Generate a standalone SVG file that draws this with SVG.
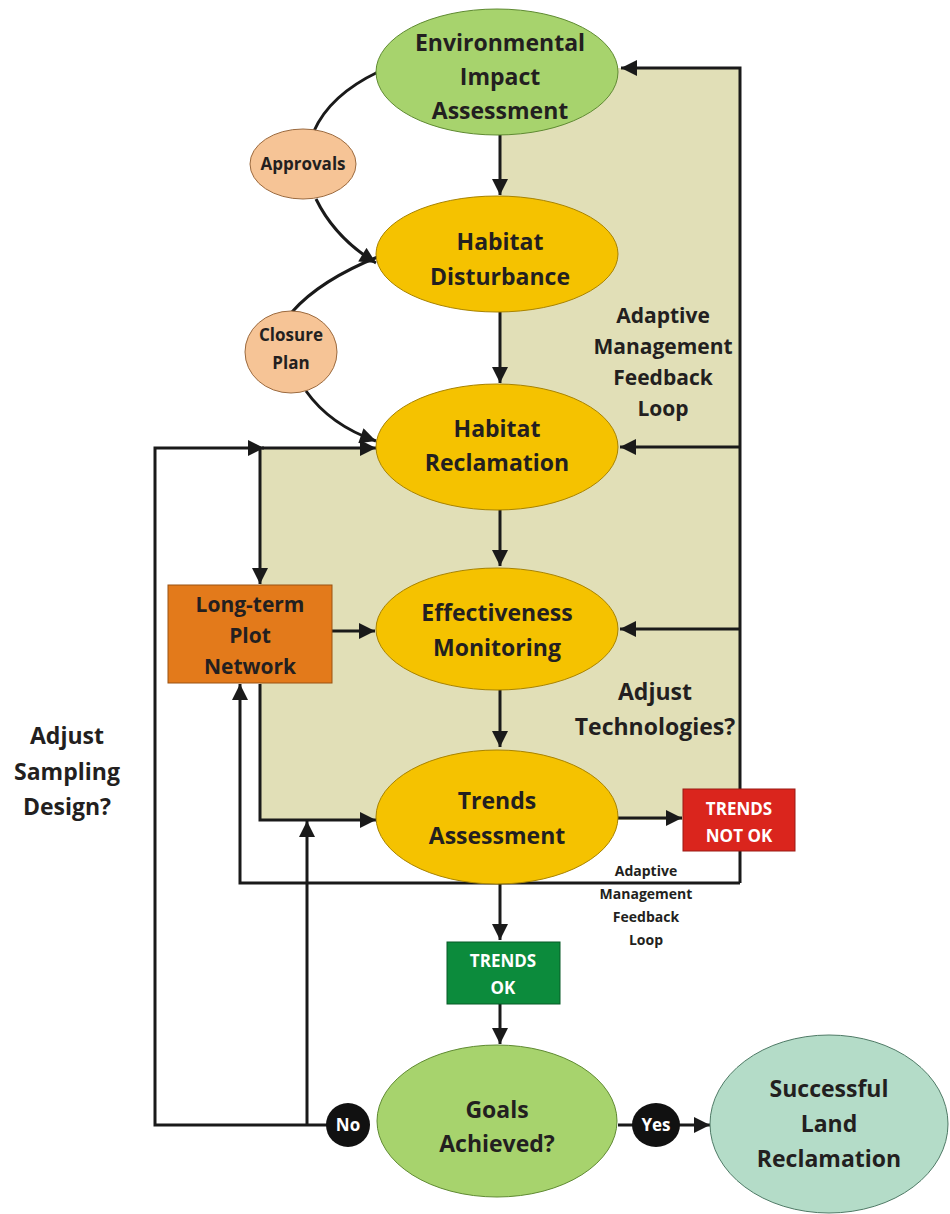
<svg xmlns="http://www.w3.org/2000/svg" width="950" height="1214" viewBox="0 0 950 1214">
<style>
text{font-family:"Open Sans","Liberation Sans",sans-serif;font-weight:700;fill:#231f20;text-anchor:middle}
.big{font-size:23px}
.mid{font-size:21px}
.sm{font-size:17px}
.xs{font-size:14px}
.wh{fill:#ffffff}
.ln{fill:none;stroke:#1a1a1a;stroke-width:3}
.gold{fill:#f5c200;stroke:#a88300;stroke-width:1}
.lg{fill:#a7d36d;stroke:#5f8a32;stroke-width:1}
.peach{fill:#f6c496;stroke:#9b6a3f;stroke-width:1}
</style>
<defs>
<marker id="ah" viewBox="0 0 10 10" refX="10" refY="5" markerWidth="18" markerHeight="16" orient="auto" markerUnits="userSpaceOnUse"><path d="M0,0 L10,5 L0,10 z" fill="#1a1a1a"/></marker>
</defs>
<rect width="950" height="1214" fill="#ffffff"/>
<path d="M500,68 H740 V820 H260 V448 H500 Z" fill="#e1dfb7"/>
<g id="connectors">
<path class="ln" d="M500,135 V195" marker-end="url(#ah)"/>
<path class="ln" d="M500,310 V383" marker-end="url(#ah)"/>
<path class="ln" d="M500,510 V566" marker-end="url(#ah)"/>
<path class="ln" d="M500,690 V747" marker-end="url(#ah)"/>
<path class="ln" d="M500,884 V940" marker-end="url(#ah)"/>
<path class="ln" d="M500,1004 V1044" marker-end="url(#ah)"/>
<path class="ln" d="M740,883 V68 H621" marker-end="url(#ah)"/>
<path class="ln" d="M740,447 H620" marker-end="url(#ah)"/>
<path class="ln" d="M740,629 H620" marker-end="url(#ah)"/>
<path class="ln" d="M740,883 H240 V684" marker-end="url(#ah)"/>
<path class="ln" d="M618,818 H682" marker-end="url(#ah)"/>
<path class="ln" d="M332,631 H375" marker-end="url(#ah)"/>
<path class="ln" d="M330,1125 H155 V448 H264" marker-end="url(#ah)"/>
<path class="ln" d="M262,448 H376" marker-end="url(#ah)"/>
<path class="ln" d="M260,448 V584" marker-end="url(#ah)"/>
<path class="ln" d="M260,684 V820 H376" marker-end="url(#ah)"/>
<path class="ln" d="M307,1125 V821" marker-end="url(#ah)"/>
<path class="ln" d="M618,1125 H710" marker-end="url(#ah)"/>
<path class="ln" d="M378,72 Q330,95 314,131"/>
<path class="ln" d="M316,199 Q335,238 376,263" marker-end="url(#ah)"/>
<path class="ln" d="M380,256 Q320,280 292,312"/>
<path class="ln" d="M306,391 Q330,425 376,441" marker-end="url(#ah)"/>
</g>
<g id="eia"><ellipse class="lg" cx="497" cy="72" rx="121" ry="63"/>
<text class="big" x="500" y="51">Environmental</text><text class="big" x="500" y="85">Impact</text><text class="big" x="500" y="119">Assessment</text></g>
<g id="approvals"><ellipse class="peach" cx="303" cy="164" rx="53" ry="35"/><text class="sm" x="303" y="170">Approvals</text></g>
<g id="disturbance"><ellipse class="gold" cx="497" cy="254" rx="121" ry="58"/>
<text class="big" x="500" y="250">Habitat</text><text class="big" x="500" y="285">Disturbance</text></g>
<g id="closure"><ellipse class="peach" cx="291" cy="352" rx="46" ry="41"/><text class="sm" x="291" y="341">Closure</text><text class="sm" x="291" y="369">Plan</text></g>
<g id="reclamation"><ellipse class="gold" cx="497" cy="447" rx="121" ry="63"/>
<text class="big" x="497" y="437">Habitat</text><text class="big" x="497" y="471">Reclamation</text></g>
<g id="effectiveness"><ellipse class="gold" cx="497" cy="629" rx="121" ry="61"/>
<text class="big" x="497" y="621">Effectiveness</text><text class="big" x="497" y="656">Monitoring</text></g>
<g id="trends"><ellipse class="gold" cx="497" cy="817" rx="121" ry="67"/>
<text class="big" x="497" y="809">Trends</text><text class="big" x="497" y="844">Assessment</text></g>
<g id="longterm"><rect x="168" y="585" width="164" height="98" fill="#e37a1b" stroke="#9a5212" stroke-width="1"/>
<text class="mid" x="250" y="612">Long-term</text><text class="mid" x="250" y="643">Plot</text><text class="mid" x="250" y="674">Network</text></g>
<g id="notok"><rect x="683" y="789" width="112" height="62" fill="#da251d" stroke="#9a1a14" stroke-width="1"/>
<text class="sm wh" x="739" y="815">TRENDS</text><text class="sm wh" x="739" y="842">NOT OK</text></g>
<g id="ok"><rect x="447" y="942" width="113" height="62" fill="#0c8b3c" stroke="#075a27" stroke-width="1"/>
<text class="sm wh" x="503" y="967">TRENDS</text><text class="sm wh" x="503" y="994">OK</text></g>
<g id="goals"><ellipse class="lg" cx="497" cy="1121" rx="120" ry="76"/>
<text class="big" x="497" y="1118">Goals</text><text class="big" x="497" y="1152">Achieved?</text></g>
<g id="no"><ellipse cx="348" cy="1125" rx="22" ry="22" fill="#111"/><text class="sm wh" x="348" y="1131">No</text></g>
<g id="yes"><ellipse cx="656" cy="1125" rx="24" ry="22" fill="#111"/><text class="sm wh" x="656" y="1131">Yes</text></g>
<g id="success"><ellipse cx="829" cy="1124" rx="119" ry="89" fill="#b4dcc8" stroke="#4f7a66" stroke-width="1"/>
<text class="big" x="829" y="1097">Successful</text><text class="big" x="829" y="1132">Land</text><text class="big" x="829" y="1167">Reclamation</text></g>
<g id="labels">
<text class="mid" x="663" y="323">Adaptive</text><text class="mid" x="663" y="354">Management</text><text class="mid" x="663" y="385">Feedback</text><text class="mid" x="663" y="416">Loop</text>
<text class="big" x="655" y="700">Adjust</text><text class="big" x="655" y="735">Technologies?</text>
<text class="big" x="67" y="744">Adjust</text><text class="big" x="67" y="780">Sampling</text><text class="big" x="67" y="815">Design?</text>
<text class="xs" x="646" y="876">Adaptive</text><text class="xs" x="646" y="899">Management</text><text class="xs" x="646" y="922">Feedback</text><text class="xs" x="646" y="945">Loop</text>
</g>
</svg>
